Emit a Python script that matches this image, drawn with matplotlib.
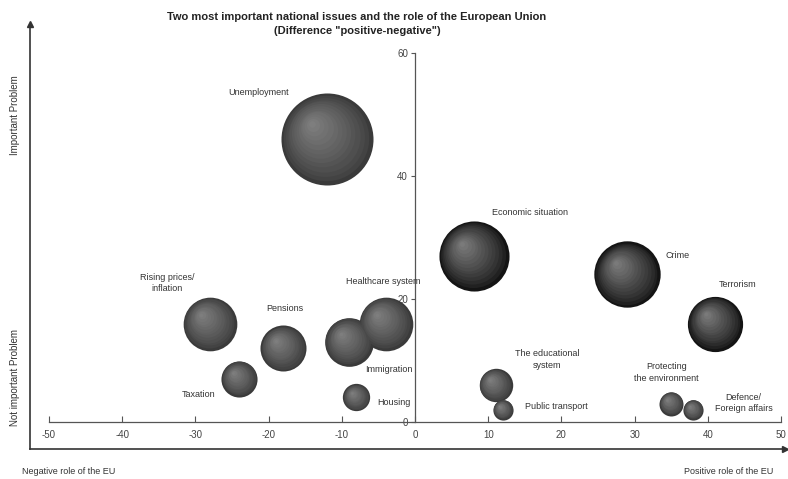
import numpy as np
import matplotlib.pyplot as plt
import matplotlib.transforms as mtransforms
from matplotlib.colors import to_rgb

plt.rcParams['font.family'] = ['Liberation Sans', 'DejaVu Sans']
plt.rcParams['axes.unicode_minus'] = False

# Data: x = role of the EU (positive - negative), y = importance, size = bubble size
issues = ['Unemployment', 'Economic situation', 'Crime', 'Terrorism',
          'Rising prices/\ninflation', 'Healthcare system', 'Immigration',
          'Pensions', 'Taxation', 'The educational\nsystem', 'Housing',
          'Protecting\nthe environment', 'Public transport', 'Defence/\nForeign affairs']
role_eu = [-12, 8, 29, 41, -28, -4, -9, -18, -24, 11, -8, 35, 12, 38]
importance = [46, 27, 24, 16, 16, 16, 13, 12, 7, 6, 4, 3, 2, 2]
bubble_size = [50, 29, 26, 18, 17, 17, 14, 12.5, 7.7, 6.6, 4.4, 3.4, 2.4, 2.4]

# label positions (data coords) and bubble shade
label_pos = [(-21.4, 53.5), (15.7, 34.1), (35.9, 27.0), (44.0, 22.3),
             (-33.9, 22.6), (-4.4, 22.9), (-3.6, 8.5), (-17.8, 18.4),
             (-29.5, 4.4), (18.0, 10.2), (-2.9, 3.1), (34.4, 8.1),
             (19.3, 2.6), (44.9, 3.1)]
dark = [False, True, True, True, False, False, False, False, False, False,
        False, False, False, False]

fig = plt.figure(figsize=(7.88, 4.79), dpi=100)
ax = fig.add_axes([49/788, 1 - 422/479, 732/788, 369/479])
ax.set_xlim(-50, 50)
ax.set_ylim(0, 60)

axis_col = '#555555'
for side in ['top', 'right']:
    ax.spines[side].set_visible(False)
ax.spines['left'].set_position(('data', 0))
ax.spines['bottom'].set_position(('data', 0))
for side in ['left', 'bottom']:
    ax.spines[side].set_color(axis_col)
    ax.spines[side].set_linewidth(0.9)
ax.set_xticks(np.arange(-50, 51, 10))
ax.set_yticks([0, 20, 40, 60])
ax.tick_params(axis='x', direction='in', length=4, color=axis_col,
               labelsize=7, labelcolor='#444444', pad=6)
ax.tick_params(axis='y', direction='out', length=3, color=axis_col,
               labelsize=7, labelcolor='#444444', pad=2)
ax.patch.set_visible(False)

k = 87.8  # points^2 per size unit
n = 14
for x, y, s, d in zip(role_eu, importance, bubble_size, dark):
    if d:
        c0, c1 = np.array(to_rgb('#141414')), np.array(to_rgb('#7a7a7a'))
    else:
        c0, c1 = np.array(to_rgb('#3a3a3a')), np.array(to_rgb('#7e7e7e'))
    r_pt = np.sqrt(s * k) / 2
    for i in range(n):
        f = 1 - i / n
        t = (i / (n - 1)) ** 0.8
        col = c0 + (c1 - c0) * t
        off = (1 - f) * r_pt * 0.45
        tr = mtransforms.offset_copy(ax.transData, fig=fig, x=-off * 0.8,
                                     y=off * 0.8, units='points')
        ax.scatter([x], [y], s=s * k * f ** 2, color=col, linewidths=0,
                   transform=tr, zorder=3 + i * 0.01, clip_on=False)

for name, (lx, ly) in zip(issues, label_pos):
    ax.text(lx, ly, name, ha='center', va='center', fontsize=6.5,
            color='#333333', linespacing=1.4, zorder=5)

fig.text(357/788, 1 - 17/479, 'Two most important national issues and the role of the European Union',
         ha='center', va='center', fontsize=8, fontweight='bold', color='#222222')
fig.text(357/788, 1 - 31/479, '(Difference "positive-negative")',
         ha='center', va='center', fontsize=8, fontweight='bold', color='#222222')

# outer frame with arrows
fig.add_artist(plt.Line2D([30/788, 30/788], [1 - 449/479, 1 - 24/479],
                          color='#333333', lw=1.2))
fig.add_artist(plt.Line2D([30/788, 785/788], [1 - 449/479, 1 - 449/479],
                          color='#333333', lw=1.2))
fig.add_artist(plt.Line2D([30/788], [1 - 24/479], marker='^', ms=4,
                          color='#333333', lw=0))
fig.add_artist(plt.Line2D([785/788], [1 - 449/479], marker='>', ms=4,
                          color='#333333', lw=0))

fig.text(15/788, 1 - 115/479, 'Important Problem', rotation=90, ha='center',
         va='center', fontsize=7, color='#333333')
fig.text(15/788, 1 - 378/479, 'Not important Problem', rotation=90, ha='center',
         va='center', fontsize=7, color='#333333')
fig.text(22/788, 1 - 472/479, 'Negative role of the EU', ha='left',
         va='center', fontsize=6.5, color='#333333')
fig.text(773/788, 1 - 472/479, 'Positive role of the EU', ha='right',
         va='center', fontsize=6.5, color='#333333')

fig.savefig('out.png', dpi=100)
